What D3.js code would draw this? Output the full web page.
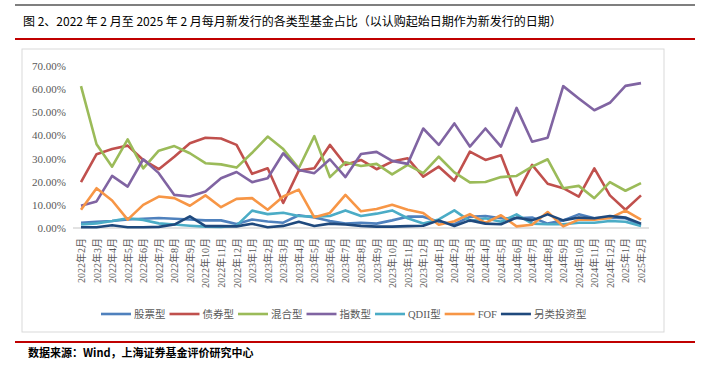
<!DOCTYPE html>
<html>
<head>
<meta charset="utf-8">
<script src="https://cdn.jsdelivr.net/npm/d3@7"></script>
<style>
    body { margin: 0; background: #fff; }
    svg { display: block; }
</style>
</head>
<body>
<div class="chart"></div>
<script>
// ########## data ##########
var months = [
    "2022年2月", "2022年3月", "2022年4月", "2022年5月", "2022年6月", "2022年7月", "2022年8月",
    "2022年9月", "2022年10月", "2022年11月", "2022年12月", "2023年1月", "2023年2月", "2023年3月",
    "2023年4月", "2023年5月", "2023年6月", "2023年7月", "2023年8月", "2023年9月", "2023年10月",
    "2023年11月", "2023年12月", "2024年1月", "2024年2月", "2024年3月", "2024年4月", "2024年5月",
    "2024年6月", "2024年7月", "2024年8月", "2024年9月", "2024年10月", "2024年11月", "2024年12月",
    "2025年1月", "2025年2月"
];

var stockFund = [2.3, 2.7, 3.0, 3.7, 4.0, 4.3, 4.0, 3.7, 3.3, 3.3, 1.7, 3.7, 2.8, 2.3, 5.5, 4.5, 3.0, 1.9, 2.3,
    1.9, 3.3, 4.9, 4.9, 2.7, 1.6, 4.8, 5.2, 4.2, 4.2, 4.5, 1.9, 3.3, 5.9, 4.2, 4.5, 4.2, 1.3];
var bondFund = [19.8, 31.9, 34.1, 35.6, 29.4, 25.4, 30.8, 36.6, 39.0, 38.7, 35.9, 23.4, 25.8, 10.8, 24.8, 25.8,
    35.9, 27.3, 29.4, 25.4, 28.7, 30.1, 22.2, 26.5, 20.4, 33.0, 29.4, 31.4, 14.2, 27.3, 19.1, 17.2, 13.6, 25.8,
    14.1, 7.9, 14.1];
var mixedFund = [61.3, 36.2, 26.5, 38.3, 25.8, 33.4, 35.4, 32.3, 28.0, 27.5, 26.1, 32.5, 39.5, 34.1, 25.8, 39.7,
    22.0, 28.4, 26.8, 27.7, 23.2, 27.3, 23.7, 30.8, 24.0, 19.7, 19.9, 22.0, 22.5, 26.5, 29.7, 17.2, 18.2, 12.9,
    19.8, 16.1, 19.4];
var indexFund = [9.6, 11.5, 22.5, 17.9, 29.7, 23.7, 14.3, 13.6, 15.8, 21.5, 24.2, 19.8, 21.5, 32.3, 25.1, 23.7,
    29.7, 22.0, 32.0, 32.9, 29.0, 27.7, 43.0, 35.9, 45.2, 35.2, 43.0, 35.2, 51.9, 37.3, 39.0, 61.3, 56.0, 50.9,
    54.1, 61.4, 62.6];
var qdiiFund = [1.5, 2.0, 3.0, 4.2, 3.5, 2.0, 1.5, 1.0, 0.6, 0.5, 1.0, 7.5, 6.0, 6.6, 5.2, 4.9, 5.2, 7.6, 5.2,
    6.2, 7.6, 4.2, 1.9, 3.7, 7.6, 3.0, 4.2, 2.7, 5.9, 1.9, 1.6, 1.6, 2.3, 2.3, 3.0, 2.7, 0.9];
var fofFund = [7.9, 17.2, 11.9, 3.6, 10.0, 13.6, 12.9, 9.6, 14.1, 9.0, 12.6, 12.9, 7.9, 13.6, 16.6, 4.6, 6.5,
    14.3, 7.2, 8.2, 10.0, 7.9, 6.5, 1.4, 2.9, 6.0, 2.2, 5.5, 0.7, 1.4, 6.9, 0.7, 3.6, 3.6, 4.3, 7.5, 3.6];
var altFund = [0.3, 0.3, 1.2, 0.3, 0.3, 0.5, 1.5, 5.0, 0.8, 0.8, 0.7, 1.8, 0.3, 0.9, 2.7, 0.9, 1.9, 1.5, 0.9,
    0.6, 0.6, 0.8, 1.0, 3.3, 0.9, 3.3, 1.9, 1.6, 4.5, 3.3, 5.9, 3.3, 4.5, 4.2, 5.2, 4.5, 1.9];

var seriesNames = ["股票型", "债券型", "混合型", "指数型", "QDII型", "FOF", "另类投资型"];
var seriesColors = ["#4F81BD", "#C0504D", "#9BBB59", "#8064A2", "#4BACC6", "#F79646", "#1F497D"];
var yTicks = [0, 10, 20, 30, 40, 50, 60, 70];

var titleText = "图 2、2022 年 2 月至 2025 年 2 月每月新发行的各类型基金占比（以认购起始日期作为新发行的日期）";
var sourceText = "数据来源：Wind，上海证券基金评价研究中心";

var series = [stockFund, bondFund, mixedFund, indexFund, qdiiFund, fofFund, altFund].map(function (vals, i) {
    return { name: seriesNames[i], color: seriesColors[i], values: vals };
});

// ########## svg setup ##########
var svgWidth = 720;
var svgHeight = 366;

var svg = d3.select(".chart")
    .append("svg")
    .attr("width", svgWidth)
    .attr("height", svgHeight);

var serif = "'Liberation Serif', 'Noto Sans CJK SC', serif";
var cjk = "'Noto Sans CJK SC', sans-serif";

// header rules and title
svg.append("line")
    .attr("x1", 15).attr("x2", 695).attr("y1", 5).attr("y2", 5)
    .attr("stroke", "#7f7f7f").attr("stroke-width", 2);

svg.append("text")
    .attr("x", 23).attr("y", 26)
    .style("font-family", cjk)
    .style("font-size", "12px")
    .attr("fill", "#000")
    .text(titleText);

svg.append("line")
    .attr("x1", 15).attr("x2", 695).attr("y1", 39).attr("y2", 39)
    .attr("stroke", "#C00000").attr("stroke-width", 2);

// chart frame
svg.append("rect")
    .attr("x", 22).attr("y", 49)
    .attr("width", 642).attr("height", 283)
    .attr("fill", "none")
    .attr("stroke", "#d9d9d9");

// ########## scales ##########
var xScale = d3.scalePoint()
    .domain(months)
    .range([81, 641]);

var yScale = d3.scaleLinear()
    .domain([0, 70])
    .range([228, 66]);

// y axis (labels only)
var leftAxis = d3.axisLeft(yScale)
    .tickValues(yTicks)
    .tickSize(0)
    .tickPadding(0)
    .tickFormat(function (d) { return d.toFixed(2) + "%"; });

var yAxis = svg.append("g")
    .attr("transform", "translate(66,0)")
    .call(leftAxis);
yAxis.select(".domain").remove();
yAxis.selectAll("text")
    .style("font-family", serif)
    .style("font-size", "11px")
    .attr("fill", "#595959");

// x axis
var bottomAxis = d3.axisBottom(xScale)
    .tickSize(0)
    .tickPadding(0);

var xAxis = svg.append("g")
    .attr("transform", "translate(0,228)")
    .call(bottomAxis);
xAxis.select(".domain")
    .attr("d", "M73,0H649")
    .attr("stroke", "#d9d9d9")
    .attr("stroke-width", 1.5);
xAxis.selectAll("text")
    .attr("transform", "rotate(-90)")
    .attr("x", -10)
    .attr("y", 0)
    .attr("dy", "0.35em")
    .style("text-anchor", "end")
    .style("font-family", serif)
    .style("font-size", "10px")
    .attr("fill", "#595959");

// ########## lines ##########
var lineGen = d3.line()
    .x(function (d, i) { return xScale(months[i]); })
    .y(function (d) { return yScale(d); });

svg.append("g")
    .selectAll("path")
    .data(series)
    .enter()
    .append("path")
    .attr("d", function (d) { return lineGen(d.values); })
    .attr("fill", "none")
    .attr("stroke", function (d) { return d.color; })
    .attr("stroke-width", 2.6)
    .attr("stroke-linejoin", "round");

// ########## legend ##########
var legend = svg.append("g");
var lx = 101;
series.forEach(function (s) {
    legend.append("line")
        .attr("x1", lx).attr("x2", lx + 30)
        .attr("y1", 314).attr("y2", 314)
        .attr("stroke", s.color).attr("stroke-width", 2.6);
    var t = legend.append("text")
        .attr("x", lx + 33).attr("y", 314)
        .attr("dy", "0.35em")
        .style("font-family", serif)
        .style("font-size", "10.5px")
        .attr("fill", "#595959")
        .text(s.name);
    lx += 33 + t.node().getComputedTextLength() + 4;
});

// footer
svg.append("line")
    .attr("x1", 15).attr("x2", 695).attr("y1", 342).attr("y2", 342)
    .attr("stroke", "#C00000").attr("stroke-width", 2);

svg.append("text")
    .attr("x", 28).attr("y", 357)
    .style("font-family", cjk)
    .style("font-size", "11px")
    .style("font-weight", "bold")
    .attr("fill", "#000")
    .text(sourceText);
</script>
</body>
</html>
